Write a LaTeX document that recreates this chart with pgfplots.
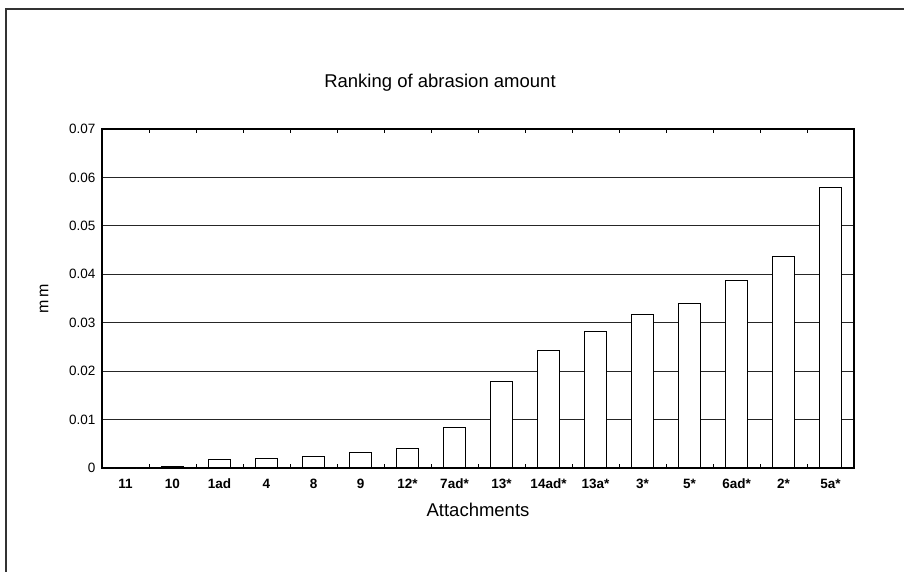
\documentclass[border=0pt]{standalone}
\usepackage{pgfplots}
\pgfplotsset{compat=1.18}
\usepackage{fontspec}
\setmainfont{Liberation Sans}
\begin{document}
\begin{tikzpicture}[x=1pt,y=1pt]
\useasboundingbox (0,0) rectangle (904,-572);
\draw[line width=1.3pt, black!80] (6,-572) -- (6,-9) -- (904,-9);
\node[font=\fontsize{18.5}{20}\selectfont] at (440,-83) {Ranking of abrasion amount};
\begin{axis}[
  at={(102pt,-468pt)}, anchor=south west,
  scale only axis, width=752pt, height=339pt,
  ymin=0, ymax=0.07,
  xmin=-0.5, xmax=15.5,
  ybar, bar width=22pt,
  scaled y ticks=false,
  ytick={0,0.01,0.02,0.03,0.04,0.05,0.06,0.07},
  yticklabels={0,0.01,0.02,0.03,0.04,0.05,0.06,0.07},
  xtick={0,...,15},
  xticklabels={11,10,1ad,4,8,9,12*,7ad*,13*,14ad*,13a*,3*,5*,6ad*,2*,5a*},
  minor x tick num=1,
  major tick length=0pt, minor tick length=4pt, tick align=inside,
  ymajorgrids, grid style={black!85, line width=0.9pt},
  axis line style={black, line width=1.1pt},
  minor tick style={black, line width=0.8pt},
  yticklabel style={font=\fontsize{13.5}{14}\selectfont, xshift=-3pt},
  xticklabel style={font=\bfseries\fontsize{13.5}{14}\selectfont, text height=10pt, text depth=0pt, yshift=-7pt},
  xlabel={Attachments},
  every axis x label/.style={at={(axis description cs:0.5,0)}, anchor=center, yshift=-42pt, font=\fontsize{18.5}{20}\selectfont},
  ylabel={m\hspace{3pt}m},
  every axis y label/.style={at={(axis description cs:-0.077,0.5)}, anchor=center, rotate=90, font=\fontsize{16}{18}\selectfont},
]
\addplot[draw=black, fill=white, line width=1.2pt] coordinates {
 (0,0) (1,0.0002) (2,0.0017) (3,0.0019) (4,0.0024) (5,0.0032) (6,0.0041) (7,0.0084)
 (8,0.0178) (9,0.0243) (10,0.0282) (11,0.0317) (12,0.0340) (13,0.0387) (14,0.0437) (15,0.0579)
};
\end{axis}
\end{tikzpicture}
\end{document}
